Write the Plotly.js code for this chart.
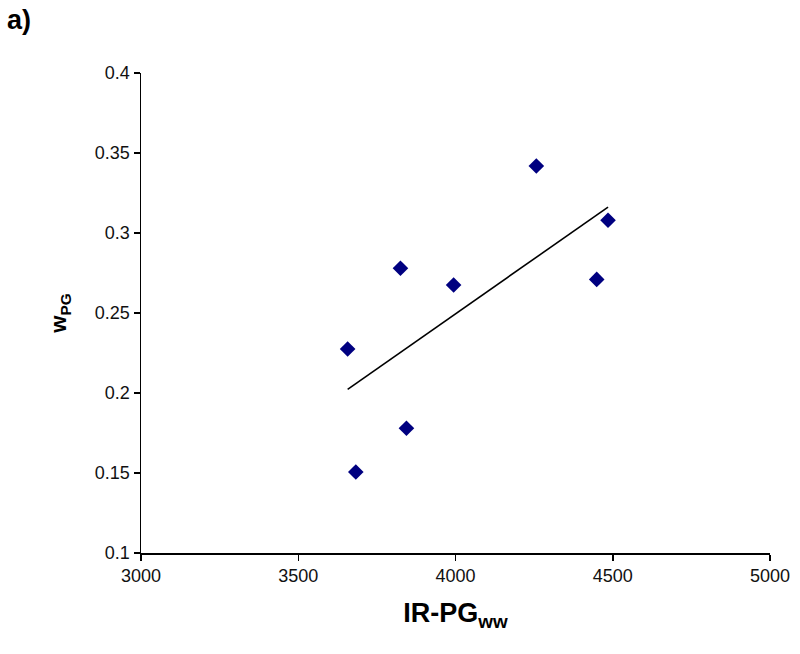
<!DOCTYPE html>
<html>
<head>
<meta charset="utf-8">
<script src="https://cdn.plot.ly/plotly-3.0.1.min.js"></script>
<style>html,body{margin:0;padding:0;background:#fff;}#chart{width:800px;height:654px;}</style>
</head>
<body>
<div id="chart"></div>
<script>
// Data
const irPG = [3657, 3683, 3825, 3844, 3994, 4257, 4449, 4485];
const wPG  = [0.2275, 0.1506, 0.278, 0.178, 0.2675, 0.3419, 0.271, 0.308];
const xTicks = [3000, 3500, 4000, 4500, 5000];
const yTicks = [0.1, 0.15, 0.2, 0.25, 0.3, 0.35, 0.4];
const yTickText = ['0.1', '0.15', '0.2', '0.25', '0.3', '0.35', '0.4'];

// Linear trend line (least squares) over the data range
const n = irPG.length;
const mx = irPG.reduce((a, b) => a + b, 0) / n;
const my = wPG.reduce((a, b) => a + b, 0) / n;
let sxy = 0, sxx = 0;
for (let i = 0; i < n; i++) { sxy += (irPG[i] - mx) * (wPG[i] - my); sxx += (irPG[i] - mx) ** 2; }
const slope = sxy / sxx, icpt = my - slope * mx;
const tx = [Math.min(...irPG), Math.max(...irPG)];
const ty = tx.map(x => icpt + slope * x);

const font = 'Arial, "Liberation Sans", sans-serif';
const traces = [
  {x: irPG, y: wPG, mode: 'markers', type: 'scatter',
   marker: {symbol: 'diamond', size: 12, color: '#000080'}},
  {x: tx, y: ty, mode: 'lines', type: 'scatter',
   line: {color: '#000000', width: 1.6}}
];
const layout = {
  width: 800, height: 654,
  margin: {l: 141, r: 30, t: 73, b: 101},
  paper_bgcolor: '#ffffff', plot_bgcolor: '#ffffff',
  showlegend: false,
  font: {family: font, color: '#000', size: 18},
  xaxis: {
    range: [3000, 5000], tickvals: xTicks, ticktext: xTicks.map(String),
    showgrid: false, zeroline: false, showline: true, linecolor: '#000', linewidth: 1.5,
    ticks: 'outside', ticklen: 6, tickcolor: '#000', tickwidth: 1.5,
    tickfont: {family: font, size: 18, color: '#111'},
    title: {text: '<b>IR-PG<sub>ww</sub></b>', font: {family: font, size: 27, color: '#000'}, standoff: 18}
  },
  yaxis: {
    range: [0.1, 0.4], tickvals: yTicks, ticktext: yTickText,
    showgrid: false, zeroline: false, showline: true, linecolor: '#000', linewidth: 1.5,
    ticks: 'outside', ticklen: 6, tickcolor: '#000', tickwidth: 1.5,
    tickfont: {family: font, size: 18, color: '#111'},
    title: {text: '<b>w<sub>PG</sub></b>', font: {family: font, size: 22, color: '#000'}, standoff: 22}
  },
  annotations: [{
    text: '<b>a)</b>', xref: 'paper', yref: 'paper', x: -141/629, y: 1 + 73/480,
    xanchor: 'left', yanchor: 'top', xshift: 5, yshift: -3, showarrow: false,
    font: {family: font, size: 27, color: '#000'}
  }]
};
Plotly.newPlot('chart', traces, layout, {displayModeBar: false, staticPlot: true});
</script>
</body>
</html>
